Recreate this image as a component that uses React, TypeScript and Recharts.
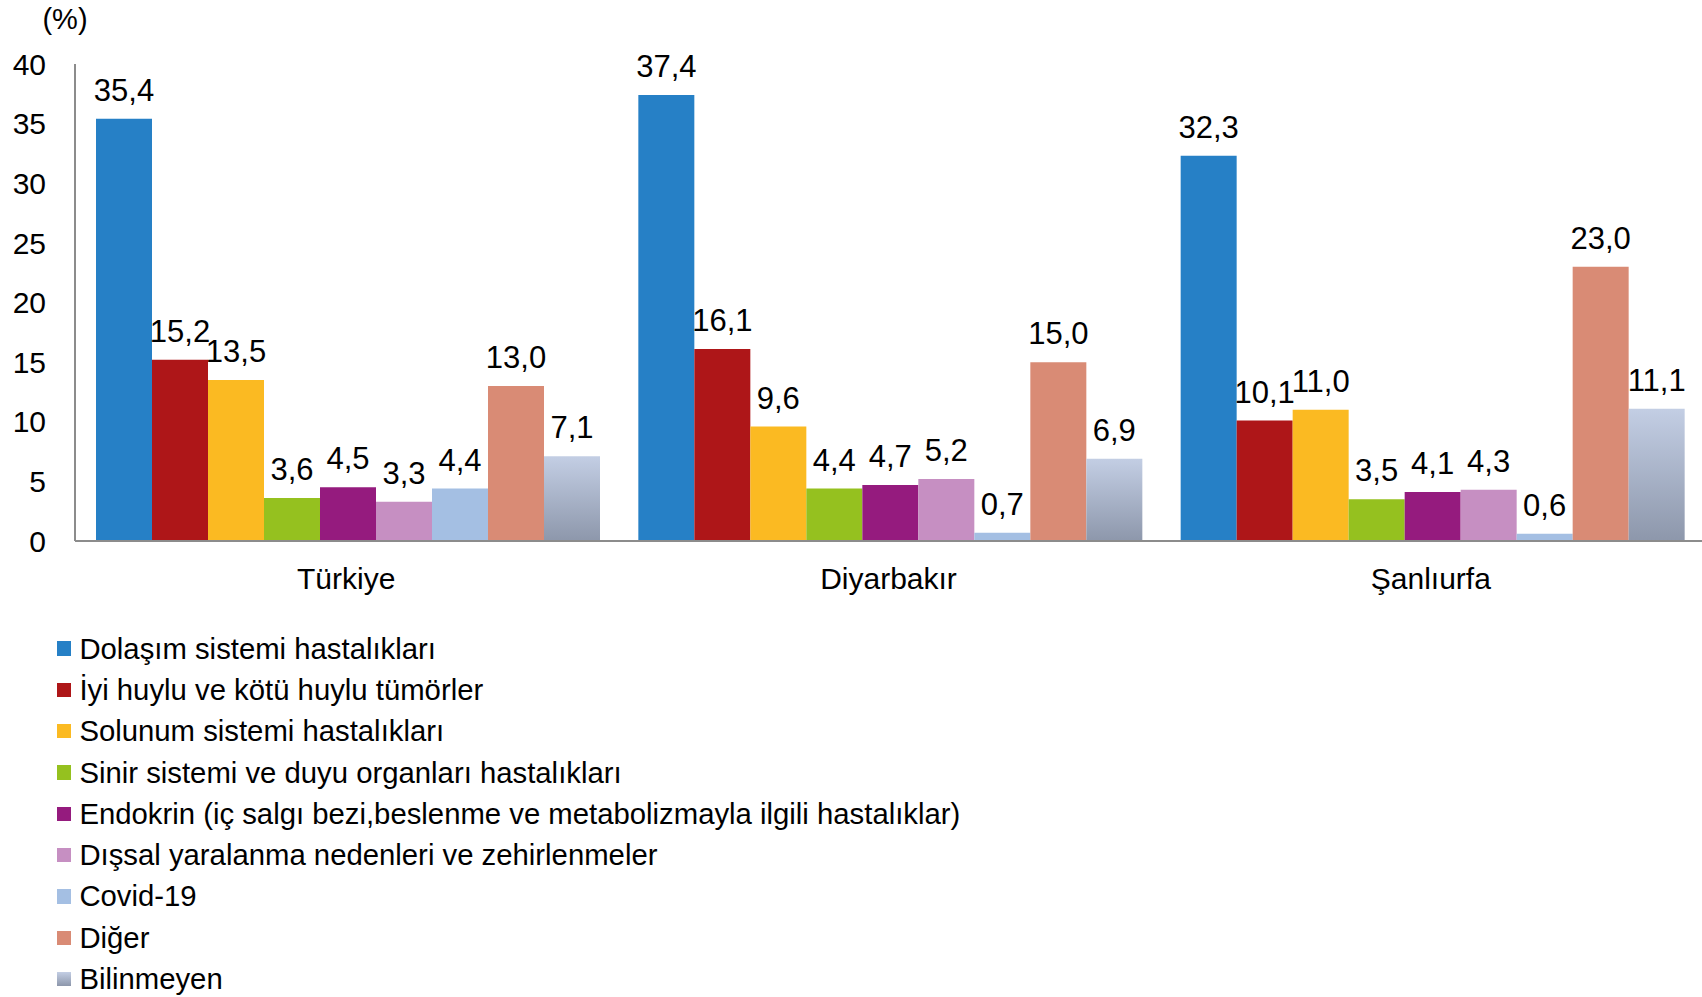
import React from "react";
import { BarChart, Bar, XAxis, YAxis, Legend, LabelList } from "recharts";

const categories = ["Türkiye", "Diyarbakır", "Şanlıurfa"];

const dolasim = [35.4, 37.4, 32.3];
const tumorler = [15.2, 16.1, 10.1];
const solunum = [13.5, 9.6, 11.0];
const sinir = [3.6, 4.4, 3.5];
const endokrin = [4.5, 4.7, 4.1];
const dissal = [3.3, 5.2, 4.3];
const covid = [4.4, 0.7, 0.6];
const diger = [13.0, 15.0, 23.0];
const bilinmeyen = [7.1, 6.9, 11.1];

const yTicks = [0, 5, 10, 15, 20, 25, 30, 35, 40];

const FONT = '"Liberation Sans", Arial, sans-serif';
const AXIS = "#8c8c8c";

const series = [
  { key: "dolasim", name: "Dolaşım sistemi hastalıkları", values: dolasim, color: "#2680c6" },
  { key: "tumorler", name: "İyi huylu ve kötü huylu tümörler", values: tumorler, color: "#ae1618" },
  { key: "solunum", name: "Solunum sistemi hastalıkları", values: solunum, color: "#fbba22" },
  { key: "sinir", name: "Sinir sistemi ve duyu organları hastalıkları", values: sinir, color: "#95c11f" },
  { key: "endokrin", name: "Endokrin (iç salgı bezi,beslenme ve metabolizmayla ilgili hastalıklar)", values: endokrin, color: "#951b7e" },
  { key: "dissal", name: "Dışsal yaralanma nedenleri ve zehirlenmeler", values: dissal, color: "#c68fc2" },
  { key: "covid", name: "Covid-19", values: covid, color: "#a4bfe3" },
  { key: "diger", name: "Diğer", values: diger, color: "#d98b75" },
  { key: "bilinmeyen", name: "Bilinmeyen", values: bilinmeyen, color: "url(#gradUnknown)", css: "linear-gradient(#c3cee4, #8d97ab)" },
];

const data = categories.map((name, i) => {
  const row: Record<string, string | number> = { name };
  series.forEach((s) => {
    row[s.key] = s.values[i];
  });
  return row;
});

const fmt = (v: any) => Number(v).toFixed(1).replace(".", ",");

// legend keeps the series order (recharts sorts the payload by name)
const renderLegend = () => (
  <div style={{ height: 400, paddingTop: 31, boxSizing: "border-box", fontFamily: FONT }}>
    {series.map((s) => (
      <div key={s.key} style={{ height: 41.3, display: "flex", alignItems: "center" }}>
        <span
          style={{
            display: "inline-block",
            width: 14.4,
            height: 14.4,
            marginLeft: 57,
            marginRight: 8,
            background: s.css || s.color,
          }}
        />
        <span style={{ fontSize: 29.3, color: "#000", whiteSpace: "nowrap" }}>{s.name}</span>
      </div>
    ))}
  </div>
);

export default function App() {
  return (
    <div style={{ position: "absolute", left: 0, top: 0, width: 1702, height: 997, background: "#fff" }}>
      <BarChart
        width={1702}
        height={997}
        data={data}
        margin={{ top: 64, right: 0, bottom: 0, left: 0 }}
        barCategoryGap={21}
        barGap={0}
      >
        <defs>
          <linearGradient id="gradUnknown" x1="0" y1="0" x2="0" y2="1">
            <stop offset="0%" stopColor="#c3cee4" />
            <stop offset="100%" stopColor="#8d97ab" />
          </linearGradient>
        </defs>
        <XAxis
          dataKey="name"
          height={56}
          tickLine={false}
          tickSize={0}
          tickMargin={27}
          axisLine={{ stroke: AXIS, strokeWidth: 2 }}
          tick={{ fontSize: 30, fill: "#000", fontFamily: FONT }}
        />
        <YAxis
          width={75}
          domain={[0, 40]}
          ticks={yTicks}
          interval={0}
          tickLine={false}
          tickSize={0}
          tickMargin={29}
          axisLine={{ stroke: AXIS, strokeWidth: 2 }}
          tick={{ fontSize: 30, fill: "#000", fontFamily: FONT }}
          label={{
            content: () => (
              <text x={65} y={29} textAnchor="middle" fontSize={29} fontFamily={FONT} fill="#000">
                (%)
              </text>
            ),
          }}
        />
        <Legend
          layout="horizontal"
          verticalAlign="bottom"
          align="left"
          content={renderLegend}
          wrapperStyle={{ left: 0, bottom: 0, width: 1000 }}
        />
        {series.map((s) => (
          <Bar key={s.key} dataKey={s.key} name={s.name} fill={s.color} isAnimationActive={false}>
            <LabelList
              dataKey={s.key}
              position="top"
              offset={18}
              formatter={fmt}
              fill="#000"
              fontSize={31}
              fontFamily={FONT}
            />
          </Bar>
        ))}
      </BarChart>
    </div>
  );
}
